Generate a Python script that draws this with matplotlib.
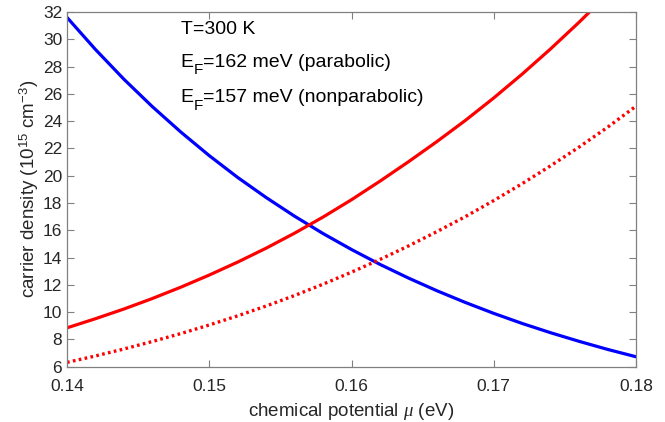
import numpy as np
import matplotlib.pyplot as plt
from matplotlib.transforms import offset_copy

plt.rcParams['font.family'] = ['Liberation Sans', 'DejaVu Sans']
plt.rcParams['mathtext.fontset'] = 'custom'
plt.rcParams['mathtext.rm'] = 'Liberation Sans'
plt.rcParams['mathtext.it'] = 'Liberation Serif:italic'

# chemical potential (eV)
mu = [0.140, 0.142, 0.144, 0.146, 0.148, 0.150, 0.152, 0.154, 0.156, 0.158,
      0.160, 0.162, 0.164, 0.166, 0.168, 0.170, 0.172, 0.174, 0.176, 0.178, 0.180]
# holes (blue)
n_blue = [31.6, 29.25, 27.07, 25.06, 23.2, 21.47, 19.87, 18.4, 17.03, 15.76,
          14.59, 13.5, 12.5, 11.57, 10.71, 9.91, 9.17, 8.49, 7.86, 7.27, 6.73]
# electrons, parabolic (red solid)
n_red = [8.85, 9.52, 10.23, 11.0, 11.83, 12.72, 13.67, 14.69, 15.79, 16.97,
         18.24, 19.6, 21.02, 22.5, 24.05, 25.7, 27.45, 29.3, 31.25, 33.3, 35.45]
# electrons, nonparabolic (red dotted)
n_red_np = [6.32, 6.79, 7.30, 7.85, 8.43, 9.06, 9.73, 10.45, 11.22, 12.05,
            12.93, 13.86, 14.85, 15.9, 17.0, 18.18, 19.42, 20.73, 22.1, 23.55, 25.1]

fig = plt.figure(figsize=(6.65, 4.22), dpi=100)
ax = fig.add_axes([0.1008, 0.131, 0.8556, 0.8406])

ax.plot(mu, n_blue, color='#0000ff', lw=2.3)
ax.plot(mu, n_red, color='#ff0000', lw=2.3)
ax.plot(mu, n_red_np, color='#ff0000', lw=2.4, linestyle=(0, (0.8, 1.0)))

ax.set_xlim(0.14, 0.18)
ax.set_ylim(6, 32)
ax.set_xticks([0.14, 0.15, 0.16, 0.17, 0.18])
ax.set_xticklabels(['0.14', '0.15', '0.16', '0.17', '0.18'])
ax.set_yticks(np.arange(6, 33, 2))

tc = '#262626'
for s in ax.spines.values():
    s.set_color('#808080')
    s.set_linewidth(0.9)
ax.tick_params(direction='in', top=True, right=True, length=5, width=0.8,
               color='#808080', labelcolor=tc, labelsize=12.5)
ax.tick_params(axis='x', pad=9)

ax.set_xlabel(r'chemical potential $\mu$ (eV)', fontsize=13.5, color=tc, labelpad=5)
ax.set_ylabel(r'carrier density (10$^{15}$ cm$^{-3}$)', fontsize=13.5, color=tc, labelpad=1)

# annotations, E with a large lowered F subscript
ax.text(0.148, 30.4, 'T=300 K', fontsize=14, color='k')
for y0, rest in [(28.0, '=162 meV (parabolic)'), (25.4, '=157 meV (nonparabolic)')]:
    ax.text(0.148, y0, 'E', fontsize=14, color='k')
    ax.text(0.148, y0, 'F', fontsize=11, color='k',
            transform=offset_copy(ax.transData, fig, x=9.0, y=-5.5, units='points'))
    ax.text(0.148, y0, rest, fontsize=14, color='k',
            transform=offset_copy(ax.transData, fig, x=16.0, y=0, units='points'))

fig.savefig('out.png', dpi=100)
